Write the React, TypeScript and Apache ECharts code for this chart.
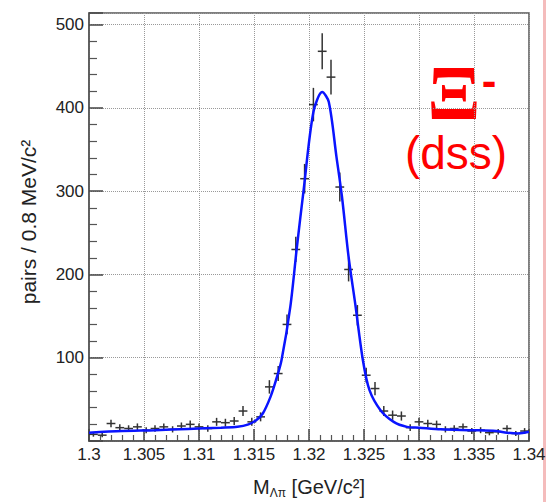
import React, { useEffect, useRef } from "react";
import * as echarts from "echarts";

// Histogram: 50 bins of 0.8 MeV from 1.300 to 1.340 GeV/c^2
const binStart = 1.3;
const binWidth = 0.0008;
const counts = [
  8, 7, 21, 16, 15, 17, 13, 15, 17, 14,
  18, 20, 17, 15, 23, 22, 24, 36, 23, 29,
  65, 81, 140, 230, 315, 404, 468, 437, 305, 206,
  151, 79, 63, 36, 31, 30, 16, 23, 21, 20,
  14, 15, 17, 12, 13, 10, 11, 15, 9, 12,
];

// Fit curve
const fitX = [
  1.3, 1.303, 1.306, 1.309, 1.312, 1.3135, 1.3145, 1.3152, 1.3158, 1.3165,
  1.317, 1.3175, 1.3183, 1.3189, 1.3195, 1.3204, 1.3212, 1.3218, 1.3225, 1.323,
  1.3236, 1.3242, 1.3249, 1.3255, 1.3265, 1.3277, 1.3289, 1.33, 1.332, 1.335,
  1.337, 1.338, 1.339, 1.34,
];
const fitY = [
  10, 12, 13, 14.5, 16, 17, 20, 25, 33, 53,
  73, 97, 161, 233, 300, 395, 419, 407, 341, 293,
  221, 165, 97, 61, 37, 23, 17, 16, 14, 13,
  12, 10, 9, 11,
];

const xTicks = ["1.3", "1.305", "1.31", "1.315", "1.32", "1.325", "1.33", "1.335", "1.34"];
const yTicks = [100, 200, 300, 400, 500];

export default function App() {
  const ref = useRef<HTMLDivElement>(null);
  useEffect(() => {
    document.body.style.margin = "0";
    if (!ref.current) return;
    const chart = echarts.init(ref.current, null, { renderer: "svg" });
    const histData = counts.map((c, i) => [binStart + binWidth * (i + 0.5), c]);
    const fitData = fitX.map((x, i) => [x, fitY[i]]);
    const font = "Liberation Sans, Arial, sans-serif";
    chart.setOption({
      animation: false,
      backgroundColor: "#ffffff",
      grid: {
        left: 89,
        right: 17,
        top: 13,
        bottom: 61,
        show: true,
        borderColor: "#555",
        borderWidth: 1.5,
        outerBoundsMode: "none",
      },
      xAxis: {
        type: "value",
        min: 1.3,
        max: 1.34,
        interval: 0.005,
        axisLine: { show: true, lineStyle: { color: "#555", width: 1.5 } },
        axisTick: { show: true, inside: true, length: 12, lineStyle: { color: "#444", width: 1.5 } },
        minorTick: { show: true, splitNumber: 5, length: 6, lineStyle: { color: "#555", width: 1.2 } },
        splitLine: { show: true, lineStyle: { color: "#999", type: "dotted", width: 1 } },
        axisLabel: {
          margin: 5,
          fontSize: 17,
          fontFamily: font,
          color: "#222",
          formatter: (v: number) => {
            const s = parseFloat(v.toFixed(3)).toString();
            return xTicks.indexOf(s) >= 0 ? s : "";
          },
        },
      },
      yAxis: {
        type: "value",
        min: 0,
        max: 514,
        interval: 100,
        axisLine: { show: true, lineStyle: { color: "#555", width: 1.5 } },
        axisTick: { show: true, inside: true, length: 14, lineStyle: { color: "#444", width: 1.5 } },
        minorTick: { show: true, splitNumber: 5, length: 8, lineStyle: { color: "#555", width: 1.2 } },
        splitLine: { show: true, lineStyle: { color: "#999", type: "dotted", width: 1 } },
        axisLabel: {
          margin: 5,
          fontSize: 17,
          fontFamily: font,
          color: "#222",
          formatter: (v: number) => (yTicks.indexOf(Math.round(v)) >= 0 ? String(Math.round(v)) : ""),
        },
      },
      series: [
        {
          type: "custom",
          data: histData,
          z: 3,
          renderItem: (params: any, api: any) => {
            const x = api.value(0);
            const y = api.value(1);
            const e = Math.sqrt(y);
            const c = api.coord([x, y]);
            const lo = api.coord([x, y - e]);
            const hi = api.coord([x, y + e]);
            const l = api.coord([x - binWidth / 2, y]);
            const r = api.coord([x + binWidth / 2, y]);
            const style = { stroke: "#333", lineWidth: 1.5 };
            return {
              type: "group",
              children: [
                { type: "line", shape: { x1: lo[0], y1: lo[1], x2: hi[0], y2: hi[1] }, style },
                { type: "line", shape: { x1: l[0], y1: c[1], x2: r[0], y2: c[1] }, style },
              ],
            };
          },
        },
        {
          type: "line",
          data: fitData,
          smooth: 0.3,
          showSymbol: false,
          z: 4,
          lineStyle: { color: "#0a14ff", width: 2.5 },
        },
      ],
      graphic: [
        {
          type: "text",
          x: 28,
          y: 222,
          rotation: Math.PI / 2,
          style: {
            text: "pairs / 0.8 MeV/c²",
            font: `21px ${font}`,
            fill: "#222",
            align: "center",
            verticalAlign: "middle",
          },
        },
        {
          type: "text",
          x: 309,
          y: 487,
          style: {
            text: "{m|M}{s|Λπ}{m| [GeV/c²]}",
            align: "center",
            verticalAlign: "middle",
            rich: {
              m: { fontSize: 20, fontFamily: font, fill: "#222" },
              s: { fontSize: 12, fontFamily: font, fill: "#222", padding: [12, 0, 0, 0] },
            },
          },
        },
        {
          type: "text",
          x: 454,
          y: 92,
          style: {
            text: "Ξ",
            font: "bold 78px Liberation Serif, serif",
            fill: "#ff0000",
            align: "center",
            verticalAlign: "middle",
          },
        },
        {
          type: "text",
          x: 489,
          y: 80,
          style: {
            text: "-",
            font: "bold 44px Liberation Sans, Arial, sans-serif",
            fill: "#ff0000",
            align: "center",
            verticalAlign: "middle",
          },
        },
        {
          type: "text",
          x: 456,
          y: 153,
          style: {
            text: "(dss)",
            font: `46px ${font}`,
            fill: "#ff0000",
            align: "center",
            verticalAlign: "middle",
          },
        },
        {
          type: "rect",
          shape: { x: 543, y: 0, width: 3, height: 502 },
          style: { fill: "#f4bcbc" },
        },
      ],
    });
    return () => chart.dispose();
  }, []);
  return <div ref={ref} style={{ width: 546, height: 502 }} />;
}
